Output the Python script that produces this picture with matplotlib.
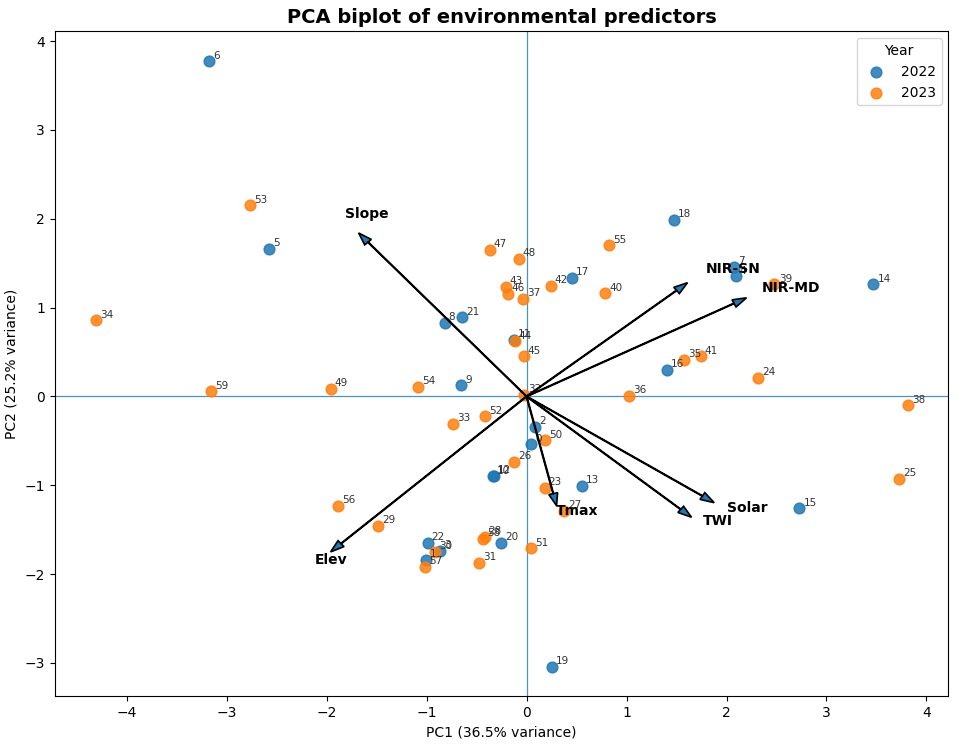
import numpy as np
import matplotlib
matplotlib.use("Agg")
import matplotlib.pyplot as plt

# Puntuaciones de las muestras (0-22 = 2022, 23-59 = 2023)
pc1 = [
    0.045, -1.01, 0.085, -0.87, 2.09, -2.58, -3.18, 2.07, -0.82, -0.656,
    -0.34, -0.13, -0.33, 0.555, 3.47, 2.73, 1.40, 0.45, 1.47, 0.255,
    -0.255, -0.646, -0.99,
    0.18, 2.32, 3.73, -0.125, 0.375, -0.42, -1.49, -0.92, -0.48, -0.03,
    -0.74, -4.31, 1.57, 1.026, -0.04, 3.82, 2.48, 0.786, 1.74, 0.24,
    -0.21, -0.12, -0.03, -0.19, -0.37, -0.08, -1.96, 0.185, 0.04, -0.42,
    -2.77, -1.09, 0.826, -1.89, -1.016, -0.44, -3.155,
]
pc2 = [
    -0.54, -1.84, -0.34, -1.74, 1.35, 1.66, 3.77, 1.46, 0.83, 0.124,
    -0.90, 0.64, -0.89, -1.01, 1.26, -1.26, 0.30, 1.33, 1.99, -3.04,
    -1.65, 0.89, -1.65,
    -1.03, 0.21, -0.93, -0.735, -1.29, -1.58, -1.46, -1.75, -1.875, 0.02,
    -0.31, 0.855, 0.41, 0.008, 1.10, -0.10, 1.26, 1.16, 0.45, 1.24,
    1.23, 0.62, 0.45, 1.15, 1.65, 1.55, 0.087, -0.495, -1.71, -0.225,
    2.15, 0.105, 1.70, -1.23, -1.92, -1.60, 0.056,
]
anio = [2022] * 23 + [2023] * 37

# Cargas de las variables (ya escaladas)
variables = ["Slope", "NIR-SN", "NIR-MD", "Solar", "TWI", "Tmax", "Elev"]
carga_pc1 = [-1.68, 1.61, 2.20, 1.877, 1.65, 0.30, -1.96]
carga_pc2 = [1.84, 1.28, 1.11, -1.196, -1.36, -1.23, -1.75]

# Desplazamiento de las etiquetas de las flechas (puntos)
offset_etiquetas = {
    "Slope": (6, 14),
    "NIR-SN": (33, 10),
    "NIR-MD": (32, 7),
    "Solar": (24, -4),
    "TWI": (19, -3),
    "Tmax": (15, -4),
    "Elev": (0, -6),
}

pc1 = np.array(pc1)
pc2 = np.array(pc2)
anio = np.array(anio)

fig = plt.figure(figsize=(9.59, 7.45), dpi=100)
ax = fig.add_axes([0.057, 0.066, 0.932, 0.892])

ax.axhline(0, color="tab:blue", linewidth=0.9, alpha=0.8)
ax.axvline(0, color="tab:blue", linewidth=0.9, alpha=0.8)

for year, color in [(2022, "tab:blue"), (2023, "tab:orange")]:
    mask = anio == year
    ax.scatter(pc1[mask], pc2[mask], s=60, color=color, alpha=0.85,
               label=str(year), zorder=3)

for i in range(len(pc1)):
    ax.annotate(str(i), (pc1[i], pc2[i]), xytext=(3, 2),
                textcoords="offset points", fontsize=7.5, color="#333333",
                zorder=4)

for nombre, x, y in zip(variables, carga_pc1, carga_pc2):
    ax.arrow(0, 0, x, y, width=0.006, head_width=0.09, head_length=0.14,
             length_includes_head=True, facecolor="tab:blue",
             edgecolor="black", linewidth=1.2, zorder=5)
    ax.annotate(nombre, (x, y), xytext=offset_etiquetas[nombre],
                textcoords="offset points", fontsize=10, fontweight="bold",
                ha="center", va="center", zorder=6)

ax.set_xlim(-4.72, 4.22)
ax.set_ylim(-3.37, 4.11)
ax.set_xlabel("PC1 (36.5% variance)")
ax.set_ylabel("PC2 (25.2% variance)")
ax.set_title("PCA biplot of environmental predictors", fontsize=14,
             fontweight="bold")
ax.legend(title="Year", loc="upper right")

fig.savefig("out.png", dpi=100)
